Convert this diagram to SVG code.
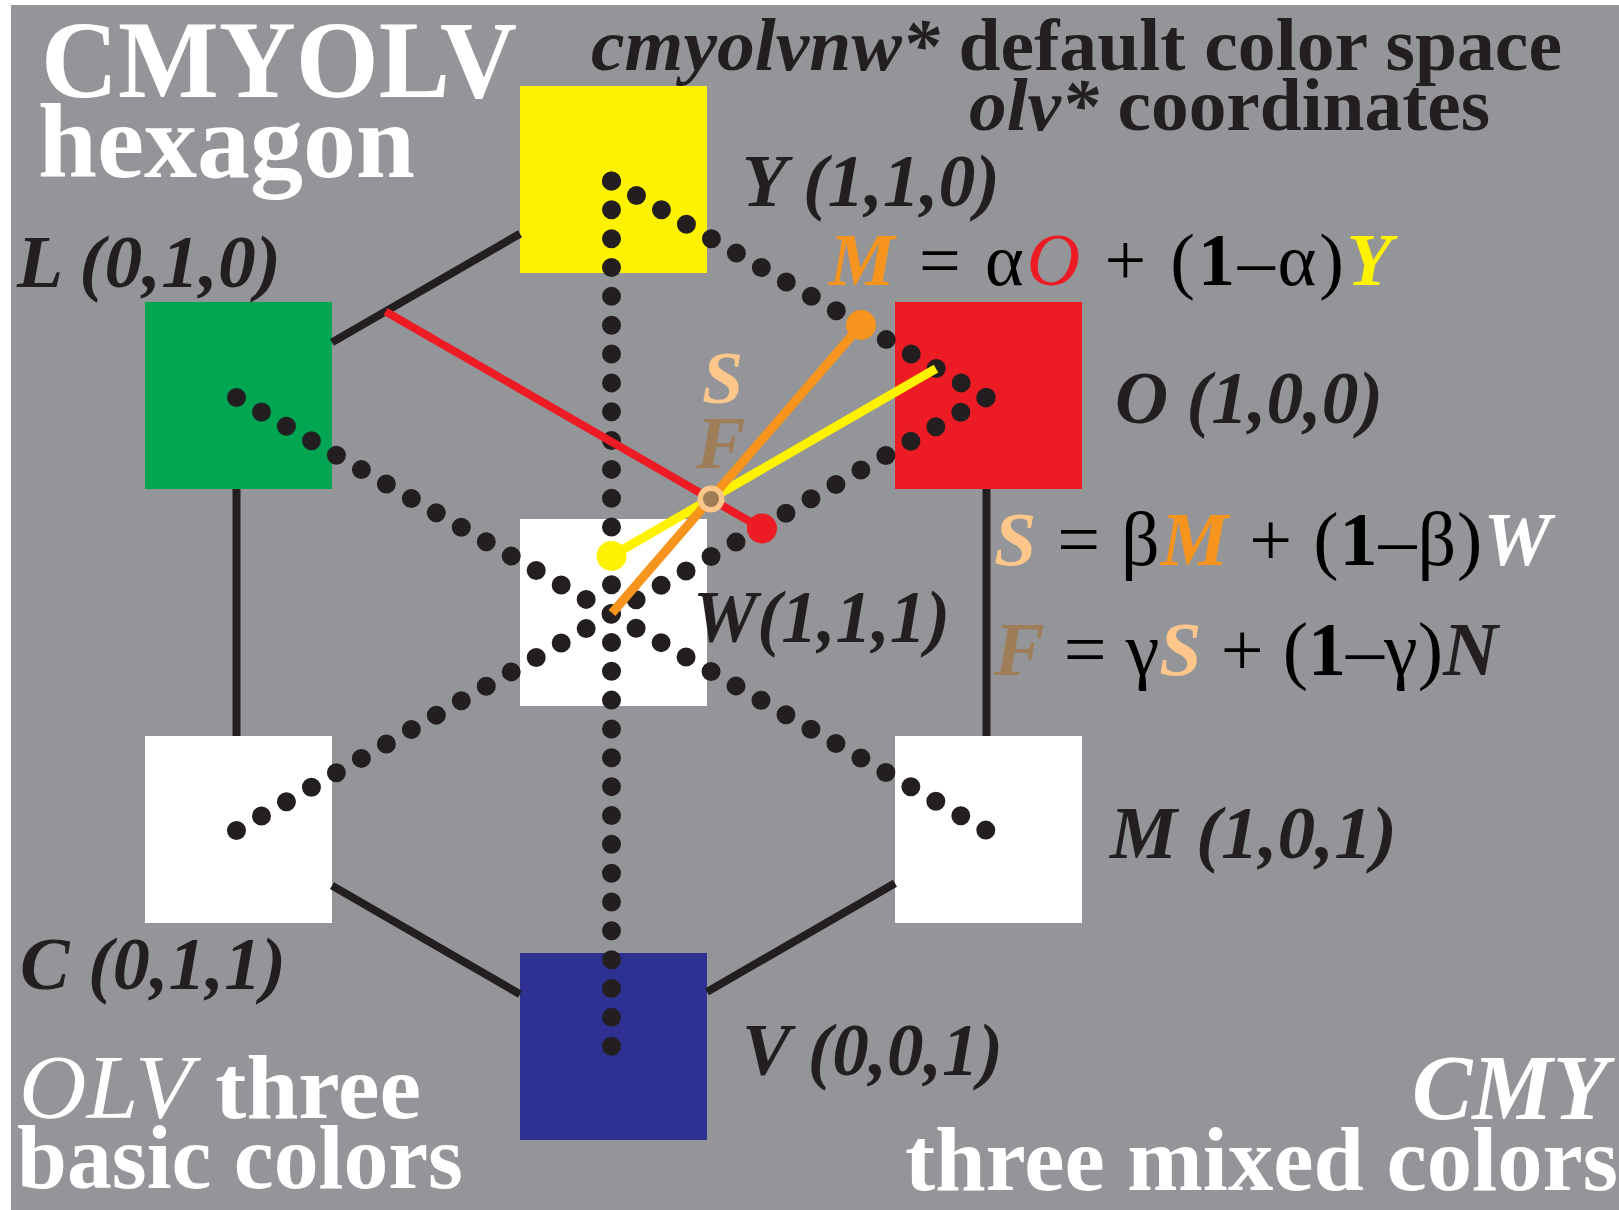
<svg xmlns="http://www.w3.org/2000/svg" width="1619" height="1210" viewBox="0 0 1619 1210">
<style>
text{font-family:"Liberation Serif","Times New Roman",serif;}
.lbl{font-size:74px;font-weight:bold;font-style:italic;fill:#231F20;}
.hd{font-size:75px;font-weight:bold;fill:#231F20;}
.eq{fill:#000;}
.bi{font-weight:bold;font-style:italic;}
.big{fill:#fff;font-weight:bold;}
.edge{stroke:#231F20;stroke-width:8;fill:none;}
.dots{stroke:#231F20;stroke-width:19;stroke-linecap:round;stroke-dasharray:0 28.84;fill:none;}
.sq{stroke:none;}
</style>
<rect x="0" y="0" width="1619" height="1210" fill="#fff"/>
<rect x="11" y="5" width="1608" height="1205" fill="#939598"/>

<g id="node-Y"><rect class="sq" x="520" y="86" width="187" height="187" fill="#FFF200"/><text class="lbl" x="742" y="206" textLength="258" lengthAdjust="spacingAndGlyphs">Y (1,1,0)</text></g>
<g id="node-L"><rect class="sq" x="145" y="302" width="187" height="187" fill="#00A651"/><text class="lbl" x="17" y="287" textLength="264" lengthAdjust="spacingAndGlyphs">L (0,1,0)</text></g>
<g id="node-O"><rect class="sq" x="895" y="302" width="187" height="187" fill="#ED1C24"/><text class="lbl" x="1115" y="423" textLength="268" lengthAdjust="spacingAndGlyphs">O (1,0,0)</text></g>
<g id="node-W"><rect class="sq" x="520" y="519" width="187" height="187" fill="#FFFFFF"/><text class="lbl" x="693" y="642" textLength="257" lengthAdjust="spacingAndGlyphs">W(1,1,1)</text></g>
<g id="node-C"><rect class="sq" x="145" y="736" width="187" height="187" fill="#FFFFFF"/><text class="lbl" x="20" y="989" textLength="266" lengthAdjust="spacingAndGlyphs">C (0,1,1)</text></g>
<g id="node-M"><rect class="sq" x="895" y="736" width="187" height="187" fill="#FFFFFF"/><text class="lbl" x="1110" y="858" textLength="287" lengthAdjust="spacingAndGlyphs">M (1,0,1)</text></g>
<g id="node-V"><rect class="sq" x="520" y="953" width="187" height="187" fill="#2E3192"/><text class="lbl" x="742" y="1075" textLength="261" lengthAdjust="spacingAndGlyphs">V (0,0,1)</text></g>

<g id="connectors">
<line class="edge" x1="520" y1="233.8" x2="332" y2="342.4"/>
<line class="edge" x1="236.5" y1="489" x2="236.5" y2="736"/>
<line class="edge" x1="332" y1="885.6" x2="520" y2="994.2"/>
<line class="edge" x1="707" y1="991.9" x2="895" y2="883.3"/>
<line class="edge" x1="986.5" y1="736" x2="986.5" y2="489"/>
<line class="dots" x1="611.5" y1="181" x2="987" y2="397.8"/>
<line class="dots" x1="611.5" y1="181" x2="611.5" y2="1048"/>
<line class="dots" x1="236.5" y1="397.5" x2="987" y2="830.8"/>
<line class="dots" x1="236.5" y1="830.5" x2="987" y2="397.2"/>
<line x1="385.5" y1="311.5" x2="762" y2="528.5" stroke="#ED1C24" stroke-width="8"/>
<circle cx="762" cy="528.5" r="15" fill="#ED1C24"/>
<line x1="611.5" y1="556" x2="936" y2="368.6" stroke="#FFF200" stroke-width="9"/>
<circle cx="611.5" cy="556" r="15" fill="#FFF200"/>
<line x1="612" y1="613" x2="861" y2="325" stroke="#F7941D" stroke-width="9"/>
<circle cx="861" cy="325" r="15" fill="#F7941D"/>
<circle cx="711" cy="499" r="13.5" fill="#FDC68A"/>
<circle cx="711" cy="499" r="8" fill="#9E7E58"/>
</g>

<g id="labels">
<text class="bi" x="702" y="403" font-size="74" fill="#FDC68A">S</text>
<text class="bi" x="696" y="468" font-size="74" fill="#9E7E58">F</text>
<text class="eq" x="829" y="285" font-size="74" textLength="563" lengthAdjust="spacing"><tspan class="bi" fill="#F7941D">M</tspan> = α<tspan font-style="italic" fill="#ED1C24">O</tspan> + (<tspan font-weight="bold">1</tspan>–α)<tspan class="bi" fill="#FFF200">Y</tspan></text>
<text class="eq" x="994" y="565" font-size="76" textLength="557" lengthAdjust="spacing"><tspan class="bi" fill="#FDC68A">S</tspan> = β<tspan class="bi" fill="#F7941D">M</tspan> + (<tspan font-weight="bold">1</tspan>–β)<tspan class="bi" fill="#FFFFFF">W</tspan></text>
<text class="eq" x="994" y="675" font-size="76" textLength="504" lengthAdjust="spacing"><tspan class="bi" fill="#9E7E58">F</tspan> = γ<tspan class="bi" fill="#FDC68A">S</tspan> + (<tspan font-weight="bold">1</tspan>–γ)<tspan class="bi" fill="#231F20">N</tspan></text>
</g>

<g id="titles">
<text class="big" x="41" y="97" font-size="110" textLength="476" lengthAdjust="spacingAndGlyphs">CMYOLV</text>
<text class="big" x="38" y="177" font-size="106">hexagon</text>
<text class="hd" x="591" y="70" textLength="971" lengthAdjust="spacingAndGlyphs"><tspan font-style="italic">cmyolvnw*</tspan> default color space</text>
<text class="hd" x="969" y="130" textLength="521" lengthAdjust="spacingAndGlyphs"><tspan font-style="italic">olv*</tspan> coordinates</text>
<text class="big" x="19" y="1118" font-size="92" textLength="402" lengthAdjust="spacingAndGlyphs"><tspan font-style="italic" font-weight="normal">OLV</tspan> three</text>
<text class="big" x="17" y="1188" font-size="90" textLength="446" lengthAdjust="spacingAndGlyphs">basic colors</text>
<text class="big" x="1412" y="1119" font-size="93" font-style="italic" font-weight="normal" textLength="196" lengthAdjust="spacingAndGlyphs">CMY</text>
<text class="big" x="905" y="1190" font-size="90" textLength="713" lengthAdjust="spacingAndGlyphs">three mixed colors</text>
</g>
</svg>
